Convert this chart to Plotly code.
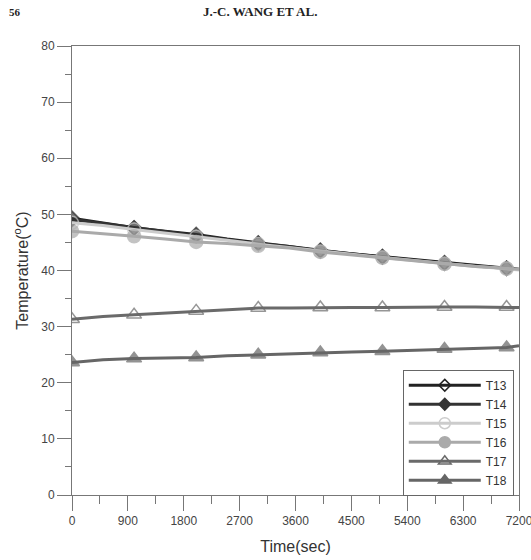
import plotly.graph_objects as go

times = [0, 500, 1000, 1500, 2000, 2500, 3000, 3500, 4000, 4500, 5000, 5500, 6000, 6500, 7000, 7200]
T13 = [49.3, 48.5, 47.6, 47.0, 46.4, 45.6, 44.9, 44.3, 43.6, 43.0, 42.5, 41.9, 41.4, 40.9, 40.4, 40.2]
T14 = [49.1, 48.4, 47.6, 47.0, 46.2, 45.6, 44.8, 44.3, 43.5, 43.0, 42.4, 41.8, 41.3, 40.8, 40.4, 40.2]
T15 = [48.5, 48.0, 47.3, 46.7, 46.0, 45.4, 44.7, 44.1, 43.4, 42.8, 42.3, 41.8, 41.2, 40.7, 40.3, 40.1]
T16 = [47.0, 46.6, 46.1, 45.6, 45.1, 44.8, 44.4, 44.0, 43.3, 42.8, 42.3, 41.8, 41.2, 40.7, 40.4, 40.2]
T17 = [31.3, 31.8, 32.1, 32.4, 32.8, 33.1, 33.3, 33.3, 33.4, 33.4, 33.4, 33.5, 33.5, 33.5, 33.5, 33.4]
T18 = [23.6, 24.1, 24.3, 24.4, 24.5, 24.8, 25.0, 25.2, 25.4, 25.5, 25.6, 25.8, 26.0, 26.1, 26.3, 26.6]
x_ticks = [0, 900, 1800, 2700, 3600, 4500, 5400, 6300, 7200]

series = [
    ("T13", T13, "#222222", "diamond-open", 11),
    ("T14", T14, "#333333", "diamond", 11),
    ("T15", T15, "#cccccc", "circle-open", 13),
    ("T16", T16, "#aaaaaa", "circle", 13),
    ("T17", T17, "#6a6a6a", "triangle-up-open", 13),
    ("T18", T18, "#666666", "triangle-up", 13),
]

fig = go.Figure()
for name, vals, col, sym, msz in series:
    sizes = [msz if t % 1000 == 0 else 0 for t in times]
    fig.add_trace(go.Scatter(
        x=times, y=vals, name=name, mode="lines+markers", showlegend=False,
        legendgroup=name,
        line=dict(color=col, width=3),
        marker=dict(symbol=sym, size=sizes, color=col,
                    line=dict(color=col, width=1.5)),
    ))
for name, vals, col, sym, msz in series:
    fig.add_trace(go.Scatter(
        x=[None], y=[None], name=name, mode="lines+markers", showlegend=True,
        legendgroup=name,
        line=dict(color=col, width=3),
        marker=dict(symbol=sym, size=msz - 2, color=col,
                    line=dict(color=col, width=1.5)),
    ))

axis_font = dict(family="Liberation Sans, Arial", size=12, color="#444")
fig.update_layout(
    width=531, height=560,
    margin=dict(l=72, r=12, t=46, b=65),
    paper_bgcolor="white", plot_bgcolor="white",
    font=dict(family="Liberation Sans, Arial", color="#333"),
    showlegend=True,
    legend=dict(x=0.74, y=0.279, xanchor="left", yanchor="top",
                bgcolor="white", bordercolor="#666", borderwidth=1,
                font=dict(size=12, color="#333"), itemwidth=72,
                tracegroupgap=0),
    xaxis=dict(range=[0, 7200], tickvals=x_ticks, ticktext=[str(v) for v in x_ticks],
               automargin=False,
               showgrid=False, zeroline=False, showline=True, linecolor="#777",
               linewidth=1, mirror=True, ticks="outside", ticklen=15, tickcolor="#777",
               tickfont=axis_font, ticklabeloverflow="allow",
               minor=dict(tickvals=[450 + 900 * i for i in range(8)], ticks="outside",
                          ticklen=8, tickcolor="#777"),
               title=dict(text="Time(sec)", font=dict(size=16, color="#333"), standoff=13)),
    yaxis=dict(range=[0, 80], tickvals=list(range(0, 81, 10)),
               automargin=False,
               showgrid=False, zeroline=False, showline=True, linecolor="#777",
               linewidth=1, mirror=True, ticks="outside", ticklen=14, tickcolor="#777",
               tickfont=axis_font,
               minor=dict(tickvals=list(range(5, 80, 10)), ticks="outside",
                          ticklen=6, tickcolor="#777"),
               title=dict(text="Temperature(<sup>o</sup>C)", font=dict(size=16, color="#333"), standoff=8)),
)

fig.add_annotation(text="<b>56</b>", x=-0.145, y=1.076, xref="paper", yref="paper",
                   xanchor="left", yanchor="middle", showarrow=False,
                   font=dict(family="Liberation Serif", size=11, color="#222"))
fig.add_annotation(text="<b>J.-C. WANG ET AL.</b>", x=0.42, y=1.076, xref="paper", yref="paper",
                   xanchor="center", yanchor="middle", showarrow=False,
                   font=dict(family="Liberation Serif", size=13, color="#222"))

fig.write_html("out.html")
